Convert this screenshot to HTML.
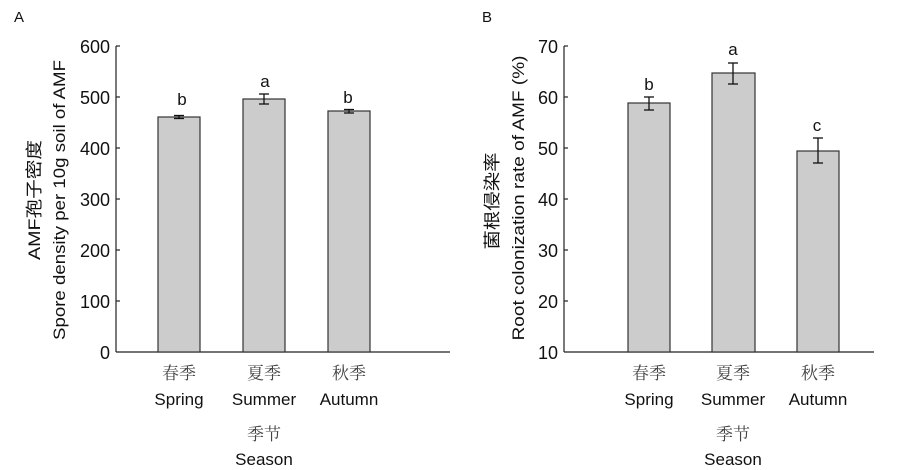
<!DOCTYPE html>
<html><head><meta charset="utf-8"><style>
html,body{margin:0;padding:0;background:#fff}
svg{display:block}
text{font-family:"Liberation Sans","Noto Sans CJK SC",sans-serif;fill:#111}
.c{font-family:"Liberation Serif","Noto Serif CJK SC",serif;fill:#444}
</style></head><body>
<svg width="913" height="470" viewBox="0 0 913 470">
<g stroke="#222" stroke-width="1.2" fill="none">
<line x1="116" y1="46" x2="116" y2="352"/>
<line x1="116" y1="352" x2="450" y2="352"/>
<line x1="116" y1="46" x2="120" y2="46"/><line x1="116" y1="97" x2="120" y2="97"/><line x1="116" y1="148" x2="120" y2="148"/><line x1="116" y1="199" x2="120" y2="199"/><line x1="116" y1="250" x2="120" y2="250"/><line x1="116" y1="301" x2="120" y2="301"/>
<line x1="564" y1="46" x2="564" y2="352"/>
<line x1="564" y1="352" x2="874" y2="352"/>
<line x1="564" y1="46" x2="568" y2="46"/><line x1="564" y1="97" x2="568" y2="97"/><line x1="564" y1="148" x2="568" y2="148"/><line x1="564" y1="199" x2="568" y2="199"/><line x1="564" y1="250" x2="568" y2="250"/><line x1="564" y1="301" x2="568" y2="301"/>
</g>
<g fill="#cccccc" stroke="#333" stroke-width="1.2">
<rect x="158" y="117" width="42" height="235"/>
<rect x="243" y="99" width="42" height="253"/>
<rect x="328" y="111" width="42" height="241"/>
<rect x="628" y="103" width="42" height="249"/>
<rect x="712" y="73" width="43" height="279"/>
<rect x="797" y="151" width="42" height="201"/>
</g>
<g stroke="#111" stroke-width="1.3">
<line x1="179" y1="115.5" x2="179" y2="118.5"/><line x1="174" y1="115.5" x2="184" y2="115.5"/><line x1="174" y1="118.5" x2="184" y2="118.5"/>
<line x1="264" y1="94" x2="264" y2="104"/><line x1="259" y1="94" x2="269" y2="94"/><line x1="259" y1="104" x2="269" y2="104"/>
<line x1="349" y1="109.5" x2="349" y2="113"/><line x1="344" y1="109.5" x2="354" y2="109.5"/><line x1="344" y1="113" x2="354" y2="113"/>
<line x1="649" y1="97" x2="649" y2="110"/><line x1="644" y1="97" x2="654" y2="97"/><line x1="644" y1="110" x2="654" y2="110"/>
<line x1="733" y1="63" x2="733" y2="84"/><line x1="728" y1="63" x2="738" y2="63"/><line x1="728" y1="84" x2="738" y2="84"/>
<line x1="818" y1="138" x2="818" y2="163"/><line x1="813" y1="138" x2="823" y2="138"/><line x1="813" y1="163" x2="823" y2="163"/>
</g>
<g font-size="18" text-anchor="end">
<text x="110" y="53">600</text><text x="110" y="104">500</text><text x="110" y="155">400</text><text x="110" y="206">300</text><text x="110" y="257">200</text><text x="110" y="308">100</text><text x="110" y="359">0</text>
<text x="558" y="53">70</text><text x="558" y="104">60</text><text x="558" y="155">50</text><text x="558" y="206">40</text><text x="558" y="257">30</text><text x="558" y="308">20</text><text x="558" y="359">10</text>
</g>
<g font-size="17" text-anchor="middle">
<text x="182" y="105">b</text><text x="265" y="87">a</text><text x="348" y="103">b</text>
<text x="649" y="90">b</text><text x="733" y="55">a</text><text x="817" y="131">c</text>
<text class="c" x="179" y="379">春季</text><text class="c" x="264" y="379">夏季</text><text class="c" x="349" y="379">秋季</text>
<text x="179" y="405">Spring</text><text x="264" y="405">Summer</text><text x="349" y="405">Autumn</text>
<text class="c" x="264" y="440">季节</text><text x="264" y="465">Season</text>
<text class="c" x="649" y="379">春季</text><text class="c" x="733" y="379">夏季</text><text class="c" x="818" y="379">秋季</text>
<text x="649" y="405">Spring</text><text x="733" y="405">Summer</text><text x="818" y="405">Autumn</text>
<text class="c" x="733" y="440">季节</text><text x="733" y="465">Season</text>
</g>
<g font-size="17" text-anchor="middle">
<text transform="translate(40,200) rotate(-90)" textLength="120" lengthAdjust="spacingAndGlyphs">AMF孢子密度</text>
<text transform="translate(65,200) rotate(-90)" textLength="280" lengthAdjust="spacingAndGlyphs">Spore density per 10g soil of AMF</text>
<text transform="translate(498,201) rotate(-90)" textLength="97" lengthAdjust="spacingAndGlyphs">菌根侵染率</text>
<text transform="translate(524,198) rotate(-90)" textLength="285" lengthAdjust="spacingAndGlyphs">Root colonization rate of AMF (%)</text>
</g>
<text x="14" y="22" font-size="15">A</text>
<text x="482" y="22" font-size="15">B</text>
</svg>
</body></html>
